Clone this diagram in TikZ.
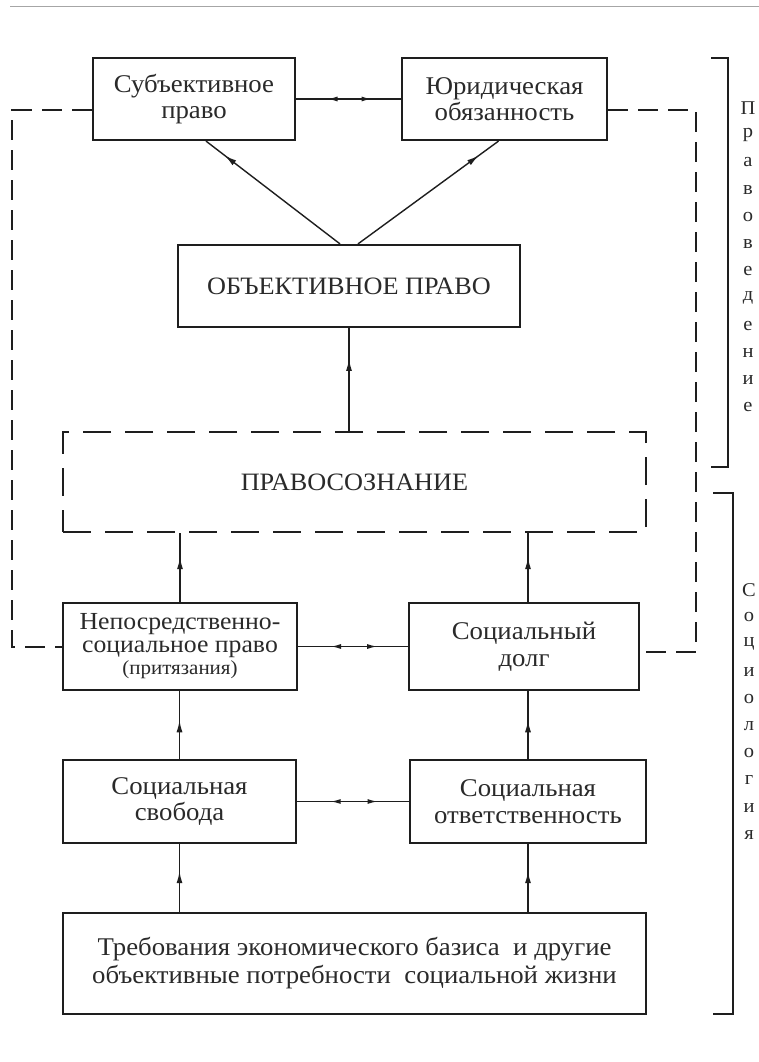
\documentclass[tikz,border=0pt]{standalone}
\usepackage{fontspec}
\setmainfont{Liberation Serif}[FakeStretch=1.05]
\usetikzlibrary{arrows.meta,decorations.markings,calc}
\definecolor{ink}{HTML}{1E1E1E}
\definecolor{txt}{HTML}{2A2A2A}
\begin{document}
\begin{tikzpicture}[x=1pt,y=-1pt,
  box/.style={draw=ink, line width=2.2pt, inner sep=0pt, align=center, text=txt,
    font=\fontsize{25.5}{26.5}\selectfont},
  dbox/.style={box, dash pattern=on 28pt off 14pt},
  conn/.style={draw=ink, line width=1.4pt},
  outerdash/.style={draw=ink, line width=2.2pt, dash pattern=on 20pt off 10pt},
  brk/.style={draw=ink, line width=2pt},
  lab/.style={text=txt, font=\fontsize{19.5}{19.5}\selectfont, inner sep=0pt},
  tipmark/.style={postaction={decorate}, decoration={markings,
    mark=at position #1 with {\arrow{Latex[length=12pt,width=6pt]}}}},
  twomarks/.style={postaction={decorate}, decoration={markings,
    mark=at position 0.3 with {\arrowreversed{Latex[length=10pt,width=5pt]}},
    mark=at position 0.72 with {\arrow{Latex[length=10pt,width=5pt]}}}}
]
\useasboundingbox (0,0) rectangle (759,1062);
\fill[white] (0,0) rectangle (759,1062);

% top rule
\coordinate (ruleL) at (10,7);
\coordinate (ruleR) at (759,7);
\draw[gray!70, line width=1pt] (ruleL) -- (ruleR);

% boxes
\node[box, minimum width=202pt, minimum height=82pt] (subj) at (194,99) {Субъективное\\право};
\node[box, minimum width=205pt, minimum height=82pt] (yur) at (504.5,99) {Юридическая\\обязанность};
\node[box, minimum width=342pt, minimum height=82pt, font=\fontsize{25}{28}\selectfont] (obj) at (349,286) {ОБЪЕКТИВНОЕ ПРАВО};
\node[dbox, minimum width=583pt, minimum height=100pt, font=\fontsize{25}{28}\selectfont] (soz) at (354.5,482) {ПРАВОСОЗНАНИЕ};
\node[box, minimum width=234pt, minimum height=87pt, font=\fontsize{24.5}{22.5}\selectfont] (nep) at (180,646.5)
  {Непосредственно-\\социальное право\\{\fontsize{20}{22.5}\selectfont (притязания)}};
\node[box, minimum width=230pt, minimum height=87pt] (dolg) at (524,646.5) {Социальный\\долг};
\node[box, minimum width=233pt, minimum height=83pt] (svob) at (179.5,801.5) {Социальная\\свобода};
\node[box, minimum width=236pt, minimum height=83pt] (otv) at (528,801.5) {Социальная\\ответственность};
\node[box, minimum width=583pt, minimum height=101pt, font=\fontsize{25.5}{28}\selectfont] (treb) at (354.5,963.5)
  {Требования экономического базиса \ и другие\\объективные потребности \ социальной жизни};

% outer dashed frame
\coordinate (oTL) at (12,110);
\coordinate (oBL) at (12,647);
\coordinate (oTR) at (696,110);
\coordinate (oBR) at (696,652);
\draw[outerdash] (subj.west |- oTL) -- (oTL) -- (oBL) -- (oBL -| nep.west);
\draw[outerdash] (yur.east |- oTR) -- (oTR) -- (oBR) -- (oBR -| dolg.east);

% connectors
\draw[conn, twomarks] (subj.east) -- (yur.west);
\draw[conn, tipmark=0.86] ([xshift=-9pt]obj.north) -- ([xshift=12pt]subj.south);
\draw[conn, tipmark=0.86] ([xshift=9pt]obj.north) -- ([xshift=-6pt]yur.south);
\draw[conn, tipmark=0.7] (soz.north -| obj.south) -- (obj.south);
\draw[conn, tipmark=0.65] (nep.north) -- (nep.north |- soz.south);
\draw[conn, tipmark=0.65] (dolg.north -| otv.north) -- (otv.north |- soz.south);
\draw[conn, twomarks] (nep.east) -- (dolg.west);
\draw[conn, tipmark=0.57] (svob.north) -- (svob.north |- nep.south);
\draw[conn, tipmark=0.57] (otv.north) -- (otv.north |- dolg.south);
\draw[conn, twomarks] (svob.east) -- (otv.west);
\draw[conn, tipmark=0.6] (treb.north -| svob.south) -- (svob.south);
\draw[conn, tipmark=0.6] (treb.north -| otv.south) -- (otv.south);

% brackets
\coordinate (b1a) at (711,58);
\coordinate (b1b) at (728,58);
\coordinate (b1c) at (728,467);
\coordinate (b1d) at (711,467);
\draw[brk] (b1a) -- (b1b) -- (b1c) -- (b1d);
\coordinate (b2a) at (713,493);
\coordinate (b2b) at (733,493);
\coordinate (b2c) at (733,1014);
\coordinate (b2d) at (713,1014);
\draw[brk] (b2a) -- (b2b) -- (b2c) -- (b2d);

\foreach \l [count=\i from 0] in {П,р,а,в,о,в,е,д,е,н,и,е}
  \node[lab] (pv\i) at (748,{108+27.2*\i}) {\l};
\foreach \l [count=\i from 0] in {С,о,ц,и,о,л,о,г,и,я}
  \node[lab] (so\i) at (749,{590+27.2*\i}) {\l};
\end{tikzpicture}
\end{document}
